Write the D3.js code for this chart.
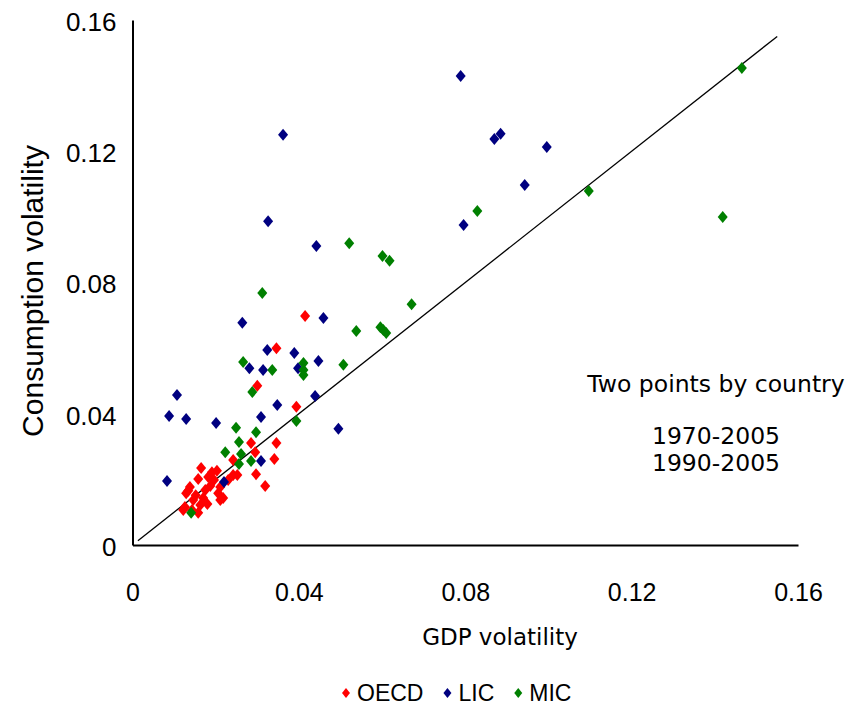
<!DOCTYPE html>
<html>
<head>
<meta charset="utf-8">
<script src="https://cdn.jsdelivr.net/npm/d3@7"></script>
<style>
  body { margin: 0; background: #fff; }
  svg { display: block; }
</style>
</head>
<body>
<script>
// GDP volatility vs consumption volatility, two points per country.
'use strict';

const seriesNames = ["OECD", "LIC", "MIC"];
const seriesColors = ["#ff0000", "#000080", "#008000"];

// [GDP volatility, consumption volatility]
const oecd = [
  [0.0415, 0.0698], [0.0346, 0.0600], [0.0300, 0.0485], [0.0394, 0.0421],
  [0.0285, 0.0311], [0.0346, 0.0311], [0.0295, 0.0283], [0.0242, 0.0259],
  [0.0341, 0.0262], [0.0165, 0.0235], [0.0191, 0.0222], [0.0203, 0.0226],
  [0.0182, 0.0207], [0.0158, 0.0201], [0.0252, 0.0213], [0.0242, 0.0213],
  [0.0297, 0.0216], [0.0319, 0.0180], [0.0187, 0.0180], [0.0211, 0.0177],
  [0.0138, 0.0177], [0.0134, 0.0165], [0.0129, 0.0158], [0.0206, 0.0158],
  [0.0170, 0.0143], [0.0218, 0.0143], [0.0146, 0.0137], [0.0211, 0.0137],
  [0.0163, 0.0122], [0.0126, 0.0116], [0.0143, 0.0107], [0.0122, 0.0107],
  [0.0158, 0.0098], [0.0175, 0.0168], [0.0196, 0.0198], [0.0152, 0.0152],
  [0.0230, 0.0198], [0.0180, 0.0125]
];

const lic = [
  [0.0789, 0.1429], [0.0870, 0.1237], [0.0885, 0.1253], [0.0996, 0.1213],
  [0.0943, 0.1097], [0.0796, 0.0975], [0.0362, 0.1250], [0.0326, 0.0987],
  [0.0442, 0.0911], [0.0459, 0.0692], [0.0264, 0.0677], [0.0324, 0.0594],
  [0.0389, 0.0585], [0.0447, 0.0561], [0.0281, 0.0539], [0.0314, 0.0533],
  [0.0398, 0.0539], [0.0439, 0.0454], [0.0107, 0.0457], [0.0348, 0.0427],
  [0.0088, 0.0393], [0.0129, 0.0384], [0.0201, 0.0372], [0.0309, 0.0390],
  [0.0495, 0.0354], [0.0309, 0.0256], [0.0220, 0.0192], [0.0083, 0.0195]
];

const mic = [
  [0.1465, 0.1454], [0.1097, 0.1079], [0.0829, 0.1018], [0.1419, 0.1000],
  [0.0521, 0.0920], [0.0601, 0.0881], [0.0618, 0.0866], [0.0312, 0.0768],
  [0.0671, 0.0734], [0.0538, 0.0652], [0.0596, 0.0664], [0.0603, 0.0655],
  [0.0610, 0.0646], [0.0266, 0.0558], [0.0336, 0.0533], [0.0411, 0.0555],
  [0.0411, 0.0533], [0.0411, 0.0518], [0.0507, 0.0549], [0.0288, 0.0466],
  [0.0394, 0.0378], [0.0249, 0.0357], [0.0297, 0.0344], [0.0256, 0.0314],
  [0.0223, 0.0283], [0.0261, 0.0277], [0.0285, 0.0256], [0.0256, 0.0247],
  [0.0141, 0.0098]
];

const xTicks = [0, 0.04, 0.08, 0.12, 0.16];
const yTicks = [0, 0.04, 0.08, 0.12, 0.16];
const diagonal = [0.0013, 0.155];  // 45 degree line, x = y
const notes = ["Two points by country", "1970-2005", "1990-2005"];

const width = 863, height = 708;

const svg = d3.select("body").append("svg")
  .attr("width", width)
  .attr("height", height);

const x = d3.scaleLinear().domain([0, 0.16]).range([132.5, 798]);
const y = d3.scaleLinear().domain([0, 0.16]).range([545, 20]);

const fmt = (d) => d === 0 ? "0" : d3.format(".2f")(d);
const diamond = (w, h) => `M0,${-h}L${w},0L0,${h}L${-w},0Z`;

// axes, no tick marks
const yAxis = svg.append("g")
  .attr("transform", `translate(${x(0)},0)`)
  .call(d3.axisLeft(y).tickValues(yTicks).tickFormat(fmt).tickSize(0).tickPadding(16));

const xAxis = svg.append("g")
  .attr("transform", `translate(0,${y(0)})`)
  .call(d3.axisBottom(x).tickValues(xTicks).tickFormat(fmt).tickSize(0).tickPadding(38));

svg.selectAll(".domain")
  .attr("stroke", "#000")
  .attr("stroke-width", 2);

yAxis.selectAll("text")
  .attr("font-family", "'Liberation Sans', Arial, sans-serif")
  .attr("font-size", 26)
  .attr("fill", "#000")
  .attr("dy", "0.4em");

xAxis.selectAll("text")
  .attr("font-family", "'Liberation Sans', Arial, sans-serif")
  .attr("font-size", 25)
  .attr("fill", "#000");

// x = y reference line
svg.append("line")
  .attr("x1", x(diagonal[0])).attr("y1", y(diagonal[0]))
  .attr("x2", x(diagonal[1])).attr("y2", y(diagonal[1]))
  .attr("stroke", "#000")
  .attr("stroke-width", 1.3);

// points: OECD first, MIC last (on top)
[oecd, lic, mic].forEach((data, i) => {
  svg.append("g")
    .selectAll("path")
    .data(data)
    .enter()
    .append("path")
      .attr("d", diamond(5, 6))
      .attr("transform", (d) => `translate(${x(d[0])},${y(d[1])})`)
      .attr("fill", seriesColors[i]);
});

// axis titles
svg.append("text")
  .attr("transform", "translate(43,291) rotate(-90)")
  .attr("text-anchor", "middle")
  .attr("font-family", "'Liberation Sans', Arial, sans-serif")
  .attr("font-size", 30)
  .text("Consumption volatility");

svg.append("text")
  .attr("x", 500)
  .attr("y", 645)
  .attr("text-anchor", "middle")
  .attr("font-family", "'DejaVu Sans', Verdana, sans-serif")
  .attr("font-size", 23)
  .text("GDP volatility");

// annotation
svg.selectAll(".note")
  .data(notes)
  .enter()
  .append("text")
    .attr("class", "note")
    .attr("x", 716)
    .attr("y", (d, i) => i === 0 ? 392 : 444 + (i - 1) * 27)
    .attr("text-anchor", "middle")
    .attr("font-family", "'DejaVu Sans', Verdana, sans-serif")
    .attr("font-size", 23.5)
    .text((d) => d);

// legend
const legend = svg.append("g").attr("transform", "translate(340,693)");
let lx = 0;
seriesNames.forEach((name, i) => {
  const item = legend.append("g").attr("transform", `translate(${lx},0)`);
  item.append("path")
    .attr("d", diamond(4, 5))
    .attr("transform", "translate(6,0)")
    .attr("fill", seriesColors[i]);
  const t = item.append("text")
    .attr("x", 17)
    .attr("y", 8)
    .attr("font-family", "'Liberation Sans', Arial, sans-serif")
    .attr("font-size", 23)
    .text(name);
  lx += 17 + t.node().getComputedTextLength() + 18;
});
</script>
</body>
</html>
